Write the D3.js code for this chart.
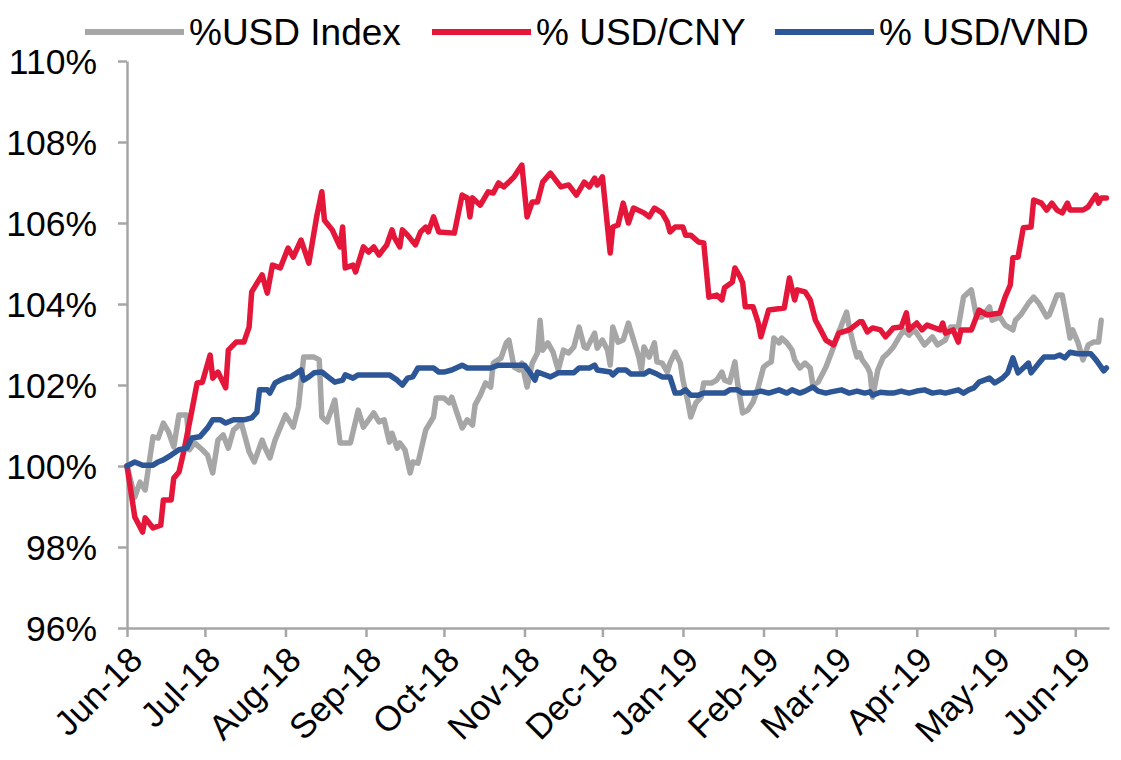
<!DOCTYPE html>
<html><head><meta charset="utf-8">
<script src="https://cdn.jsdelivr.net/npm/d3@7"></script>
<style>body{margin:0;background:#fff;}svg{display:block;font-family:"Liberation Sans",Arial,sans-serif;}</style>
</head><body><svg id="c" width="1121" height="760"></svg>
<script>
// ---------- data ----------
const seriesNames = ["%USD Index", "% USD/CNY", "% USD/VND"];
const seriesColors = ["#A6A6A6", "#E4173A", "#2C5696"];
const yTickValues = [96, 98, 100, 102, 104, 106, 108, 110];
const monthTicks = ["2018-06-01","2018-07-01","2018-08-01","2018-09-01","2018-10-01","2018-11-01","2018-12-01","2019-01-01","2019-02-01","2019-03-01","2019-04-01","2019-05-01","2019-06-01"];

const usdIndexDates = ["2018-06-01","2018-06-04","2018-06-06","2018-06-08","2018-06-11","2018-06-13","2018-06-15","2018-06-17","2018-06-19","2018-06-21","2018-06-24","2018-06-25","2018-06-27","2018-06-30","2018-07-02","2018-07-04","2018-07-06","2018-07-08","2018-07-10","2018-07-12","2018-07-15","2018-07-18","2018-07-20","2018-07-23","2018-07-24","2018-07-26","2018-07-28","2018-08-01","2018-08-04","2018-08-06","2018-08-08","2018-08-12","2018-08-14","2018-08-15","2018-08-17","2018-08-20","2018-08-22","2018-08-26","2018-08-29","2018-08-31","2018-09-04","2018-09-06","2018-09-08","2018-09-10","2018-09-11","2018-09-13","2018-09-14","2018-09-16","2018-09-18","2018-09-19","2018-09-21","2018-09-24","2018-09-27","2018-09-28","2018-10-01","2018-10-03","2018-10-04","2018-10-06","2018-10-08","2018-10-10","2018-10-12","2018-10-13","2018-10-15","2018-10-17","2018-10-19","2018-10-20","2018-10-23","2018-10-25","2018-10-26","2018-10-28","2018-10-30","2018-10-31","2018-11-02","2018-11-04","2018-11-06","2018-11-07","2018-11-08","2018-11-10","2018-11-12","2018-11-14","2018-11-16","2018-11-18","2018-11-20","2018-11-22","2018-11-24","2018-11-25","2018-11-28","2018-11-29","2018-12-01","2018-12-03","2018-12-04","2018-12-05","2018-12-07","2018-12-09","2018-12-11","2018-12-13","2018-12-15","2018-12-16","2018-12-17","2018-12-19","2018-12-21","2018-12-22","2018-12-24","2018-12-26","2018-12-27","2018-12-29","2018-12-31","2019-01-01","2019-01-03","2019-01-04","2019-01-06","2019-01-08","2019-01-09","2019-01-12","2019-01-14","2019-01-16","2019-01-17","2019-01-19","2019-01-21","2019-01-22","2019-01-24","2019-01-26","2019-01-28","2019-01-30","2019-02-01","2019-02-03","2019-02-04","2019-02-05","2019-02-07","2019-02-08","2019-02-10","2019-02-12","2019-02-13","2019-02-15","2019-02-17","2019-02-19","2019-02-20","2019-02-22","2019-02-25","2019-02-28","2019-03-02","2019-03-05","2019-03-06","2019-03-08","2019-03-09","2019-03-10","2019-03-11","2019-03-13","2019-03-14","2019-03-15","2019-03-17","2019-03-19","2019-03-21","2019-03-23","2019-03-25","2019-03-27","2019-03-29","2019-03-31","2019-04-01","2019-04-04","2019-04-07","2019-04-09","2019-04-12","2019-04-14","2019-04-17","2019-04-19","2019-04-22","2019-04-24","2019-04-26","2019-04-29","2019-04-30","2019-05-03","2019-05-05","2019-05-08","2019-05-09","2019-05-11","2019-05-14","2019-05-16","2019-05-18","2019-05-21","2019-05-22","2019-05-25","2019-05-27","2019-05-29","2019-05-30","2019-05-31","2019-06-02","2019-06-04","2019-06-06","2019-06-08","2019-06-10","2019-06-11"];
const usdIndexValues = [100.0,99.23,99.60,99.41,100.72,100.69,101.06,100.84,100.47,101.26,101.26,100.40,100.57,100.40,100.27,99.83,100.64,100.77,100.44,100.89,101.06,100.35,100.10,100.64,100.47,100.20,100.64,101.26,100.96,101.46,102.69,102.69,102.62,101.21,101.09,101.63,100.57,100.57,101.38,100.96,101.31,101.09,101.14,100.59,100.81,100.44,100.57,100.40,99.83,100.10,100.07,100.89,101.21,101.68,101.68,101.56,101.70,101.31,100.94,101.14,101.01,101.51,101.75,102.05,101.95,102.54,102.67,103.04,103.11,102.44,102.37,102.54,101.95,102.54,102.79,103.60,102.86,103.04,102.81,102.37,102.86,102.79,102.94,103.43,102.94,102.91,103.28,102.91,103.11,102.86,102.49,103.43,103.06,103.11,103.53,103.11,102.69,102.37,102.94,102.69,103.04,102.57,102.54,102.32,102.54,102.81,102.54,102.12,101.56,101.21,101.56,101.70,102.05,102.05,102.12,102.32,102.12,102.07,102.57,102.05,101.31,101.38,101.58,101.95,102.44,102.54,102.57,103.16,103.04,103.16,103.04,102.86,102.62,102.42,102.54,102.42,102.00,102.07,102.44,102.94,103.31,103.80,103.43,102.91,102.69,102.79,102.62,102.44,102.30,101.70,102.37,102.67,102.79,102.94,103.16,103.36,103.23,103.36,103.28,102.99,103.19,102.99,103.11,103.43,103.43,104.17,104.35,103.68,103.68,103.93,103.60,103.68,103.48,103.36,103.60,103.73,104.02,104.17,104.02,103.68,103.73,104.22,104.22,103.53,103.16,103.36,103.06,102.62,102.99,103.06,103.06,103.60];

const usdCnyDates = ["2018-06-01","2018-06-04","2018-06-07","2018-06-08","2018-06-11","2018-06-14","2018-06-15","2018-06-18","2018-06-19","2018-06-21","2018-06-23","2018-06-26","2018-06-28","2018-06-30","2018-07-03","2018-07-04","2018-07-06","2018-07-09","2018-07-10","2018-07-13","2018-07-16","2018-07-18","2018-07-19","2018-07-23","2018-07-25","2018-07-27","2018-07-30","2018-08-02","2018-08-04","2018-08-07","2018-08-10","2018-08-13","2018-08-15","2018-08-16","2018-08-19","2018-08-22","2018-08-23","2018-08-24","2018-08-27","2018-08-28","2018-08-31","2018-09-02","2018-09-04","2018-09-06","2018-09-09","2018-09-11","2018-09-12","2018-09-14","2018-09-15","2018-09-17","2018-09-20","2018-09-22","2018-09-24","2018-09-25","2018-09-27","2018-09-29","2018-10-05","2018-10-08","2018-10-10","2018-10-11","2018-10-12","2018-10-15","2018-10-18","2018-10-20","2018-10-22","2018-10-24","2018-10-26","2018-10-28","2018-10-31","2018-11-02","2018-11-04","2018-11-06","2018-11-08","2018-11-11","2018-11-15","2018-11-18","2018-11-21","2018-11-24","2018-11-26","2018-11-28","2018-11-29","2018-12-01","2018-12-04","2018-12-05","2018-12-07","2018-12-09","2018-12-11","2018-12-13","2018-12-17","2018-12-19","2018-12-21","2018-12-24","2018-12-26","2018-12-27","2018-12-29","2019-01-01","2019-01-02","2019-01-04","2019-01-07","2019-01-09","2019-01-10","2019-01-11","2019-01-14","2019-01-16","2019-01-17","2019-01-20","2019-01-21","2019-01-23","2019-01-24","2019-01-25","2019-01-28","2019-01-30","2019-01-31","2019-02-03","2019-02-09","2019-02-11","2019-02-13","2019-02-14","2019-02-17","2019-02-19","2019-02-21","2019-02-23","2019-02-25","2019-02-28","2019-03-02","2019-03-06","2019-03-10","2019-03-11","2019-03-13","2019-03-15","2019-03-18","2019-03-20","2019-03-23","2019-03-26","2019-03-28","2019-03-29","2019-04-01","2019-04-03","2019-04-05","2019-04-10","2019-04-11","2019-04-12","2019-04-15","2019-04-17","2019-04-18","2019-04-22","2019-04-25","2019-04-28","2019-05-03","2019-05-05","2019-05-07","2019-05-08","2019-05-10","2019-05-12","2019-05-15","2019-05-16","2019-05-19","2019-05-21","2019-05-23","2019-05-25","2019-05-27","2019-05-29","2019-05-30","2019-06-04","2019-06-06","2019-06-09","2019-06-10","2019-06-11","2019-06-13"];
const usdCnyValues = [100.0,98.74,98.37,98.72,98.47,98.54,99.16,99.16,99.70,99.85,100.40,101.38,102.05,102.07,102.74,102.17,102.32,101.93,102.86,103.06,103.06,103.43,104.30,104.72,104.27,104.96,104.89,105.38,105.16,105.58,105.01,106.15,106.77,106.07,105.83,105.41,105.90,104.89,104.96,104.79,105.41,105.28,105.41,105.21,105.46,105.83,105.63,105.41,105.83,105.70,105.46,105.78,105.90,105.78,106.15,105.78,105.75,106.69,106.62,106.15,106.62,106.44,106.77,106.74,106.99,106.89,107.01,107.14,107.43,106.15,106.52,106.52,107.01,107.23,106.89,106.94,106.69,107.01,106.89,107.11,106.94,107.14,105.26,105.90,105.95,106.49,106.00,106.37,106.25,106.15,106.37,106.25,106.02,105.78,105.90,105.90,105.70,105.70,105.53,105.51,104.84,104.17,104.22,104.10,104.40,104.54,104.89,104.67,104.52,103.93,103.93,103.53,103.19,103.85,103.90,104.64,104.10,104.35,104.30,104.10,103.60,103.36,103.11,102.99,103.28,103.36,103.56,103.56,103.31,103.41,103.36,103.19,103.41,103.43,103.78,103.36,103.53,103.36,103.48,103.36,103.53,103.28,103.36,103.06,103.36,103.36,103.85,103.73,103.78,104.17,104.47,105.14,105.16,105.88,105.90,106.57,106.49,106.32,106.49,106.32,106.25,106.49,106.32,106.32,106.40,106.69,106.49,106.62,106.62];

const usdVndDates = ["2018-06-01","2018-06-04","2018-06-07","2018-06-11","2018-06-13","2018-06-15","2018-06-18","2018-06-21","2018-06-24","2018-06-26","2018-06-29","2018-07-02","2018-07-04","2018-07-07","2018-07-09","2018-07-12","2018-07-16","2018-07-19","2018-07-21","2018-07-22","2018-07-25","2018-07-26","2018-07-28","2018-07-30","2018-08-02","2018-08-03","2018-08-07","2018-08-08","2018-08-10","2018-08-12","2018-08-15","2018-08-18","2018-08-20","2018-08-23","2018-08-24","2018-08-27","2018-08-29","2018-09-10","2018-09-13","2018-09-15","2018-09-17","2018-09-19","2018-09-21","2018-09-27","2018-09-29","2018-10-01","2018-10-04","2018-10-08","2018-10-10","2018-10-19","2018-10-22","2018-11-01","2018-11-03","2018-11-05","2018-11-06","2018-11-11","2018-11-14","2018-11-20","2018-11-22","2018-11-26","2018-11-28","2018-11-29","2018-12-04","2018-12-05","2018-12-07","2018-12-10","2018-12-12","2018-12-17","2018-12-19","2018-12-22","2018-12-24","2018-12-27","2018-12-29","2018-12-31","2019-01-02","2019-01-04","2019-01-07","2019-01-09","2019-01-17","2019-01-19","2019-01-22","2019-01-24","2019-01-28","2019-01-31","2019-02-03","2019-02-07","2019-02-10","2019-02-12","2019-02-15","2019-02-17","2019-02-20","2019-02-22","2019-02-25","2019-02-27","2019-03-03","2019-03-06","2019-03-09","2019-03-12","2019-03-14","2019-03-15","2019-03-18","2019-03-21","2019-03-23","2019-03-26","2019-03-29","2019-04-01","2019-04-04","2019-04-07","2019-04-10","2019-04-12","2019-04-17","2019-04-19","2019-04-21","2019-04-23","2019-04-25","2019-04-29","2019-05-01","2019-05-04","2019-05-06","2019-05-08","2019-05-10","2019-05-12","2019-05-14","2019-05-15","2019-05-18","2019-05-20","2019-05-24","2019-05-26","2019-05-28","2019-05-30","2019-06-02","2019-06-07","2019-06-09","2019-06-12","2019-06-13"];
const usdVndValues = [100.0,100.10,100.02,100.02,100.10,100.15,100.27,100.40,100.44,100.69,100.72,100.94,101.14,101.14,101.06,101.14,101.14,101.19,101.33,101.88,101.88,101.80,102.05,102.12,102.20,102.20,102.37,102.12,102.20,102.30,102.32,102.17,102.07,102.12,102.25,102.17,102.25,102.25,102.12,102.00,102.17,102.20,102.42,102.42,102.32,102.32,102.37,102.49,102.42,102.42,102.49,102.49,102.32,102.12,102.32,102.20,102.30,102.30,102.42,102.42,102.49,102.37,102.32,102.25,102.37,102.37,102.27,102.27,102.35,102.27,102.20,102.20,101.80,101.80,101.88,101.75,101.75,101.80,101.80,101.88,101.88,101.80,101.80,101.85,101.80,101.88,101.80,101.88,101.80,101.85,101.95,101.85,101.80,101.83,101.88,101.80,101.85,101.80,101.83,101.75,101.82,101.80,101.80,101.85,101.80,101.85,101.88,101.80,101.83,101.80,101.88,101.80,101.88,101.93,102.07,102.17,102.05,102.17,102.30,102.67,102.30,102.42,102.54,102.30,102.54,102.69,102.69,102.74,102.67,102.81,102.77,102.77,102.62,102.35,102.42];

// ---------- chart ----------
const parse = d3.timeParse("%Y-%m-%d");
const svg = d3.select("#c");
const x = d3.scaleTime()
  .domain([parse("2018-06-01"), parse("2019-06-14")])
  .range([127, 1109]);
const y = d3.scaleLinear().domain([96, 110]).range([628, 61]);
const axisColor = "#A6A6A6";
const font = "'Liberation Sans', Arial, sans-serif";

// y axis
const yAxis = svg.append("g").attr("transform", "translate(127,0)")
  .call(d3.axisLeft(y).tickValues(yTickValues).tickSize(9).tickSizeOuter(0).tickPadding(21)
        .tickFormat(d => d + "%"));
yAxis.select(".domain").attr("stroke", axisColor).attr("stroke-width", 2.5);
yAxis.selectAll(".tick line").attr("stroke", axisColor).attr("stroke-width", 2.5);
yAxis.selectAll(".tick text").attr("font-size", 35.5).attr("fill", "#000")
  .attr("font-family", font).attr("dy", "0.36em");

// x axis
const xAxis = svg.append("g").attr("transform", "translate(0,628)")
  .call(d3.axisBottom(x).tickValues(monthTicks.map(parse)).tickSize(9).tickSizeOuter(0)
        .tickFormat(d3.timeFormat("%b-%y")));
xAxis.select(".domain").attr("stroke", axisColor).attr("stroke-width", 2.5);
xAxis.selectAll(".tick line").attr("stroke", axisColor).attr("stroke-width", 2.5);
xAxis.selectAll(".tick text")
  .attr("font-size", 35).attr("fill", "#000")
  .attr("font-family", font)
  .attr("text-anchor", "end")
  .attr("dy", null).attr("y", 0)
  .attr("transform", "translate(17,34) rotate(-45)");

// lines
const seriesDates = [usdIndexDates, usdCnyDates, usdVndDates];
const seriesValues = [usdIndexValues, usdCnyValues, usdVndValues];
const line = d3.line().x(d => x(d[0])).y(d => y(d[1]));
seriesValues.forEach((vals, i) => {
  const pts = vals.map((v, j) => [parse(seriesDates[i][j]), v]);
  svg.append("path").datum(pts)
    .attr("fill", "none")
    .attr("stroke", seriesColors[i])
    .attr("stroke-width", 5.5)
    .attr("stroke-linejoin", "round")
    .attr("stroke-linecap", "round")
    .attr("d", line);
});

// legend
const legendX = [85, 432, 775];
const lg = svg.append("g");
seriesNames.forEach((name, i) => {
  lg.append("line")
    .attr("x1", legendX[i]).attr("x2", legendX[i] + 99)
    .attr("y1", 32).attr("y2", 32)
    .attr("stroke", seriesColors[i]).attr("stroke-width", 6);
  lg.append("text")
    .attr("x", legendX[i] + 104).attr("y", 45)
    .attr("font-size", 37).attr("fill", "#000")
    .attr("font-family", font)
    .text(name);
});
</script>
</body></html>
